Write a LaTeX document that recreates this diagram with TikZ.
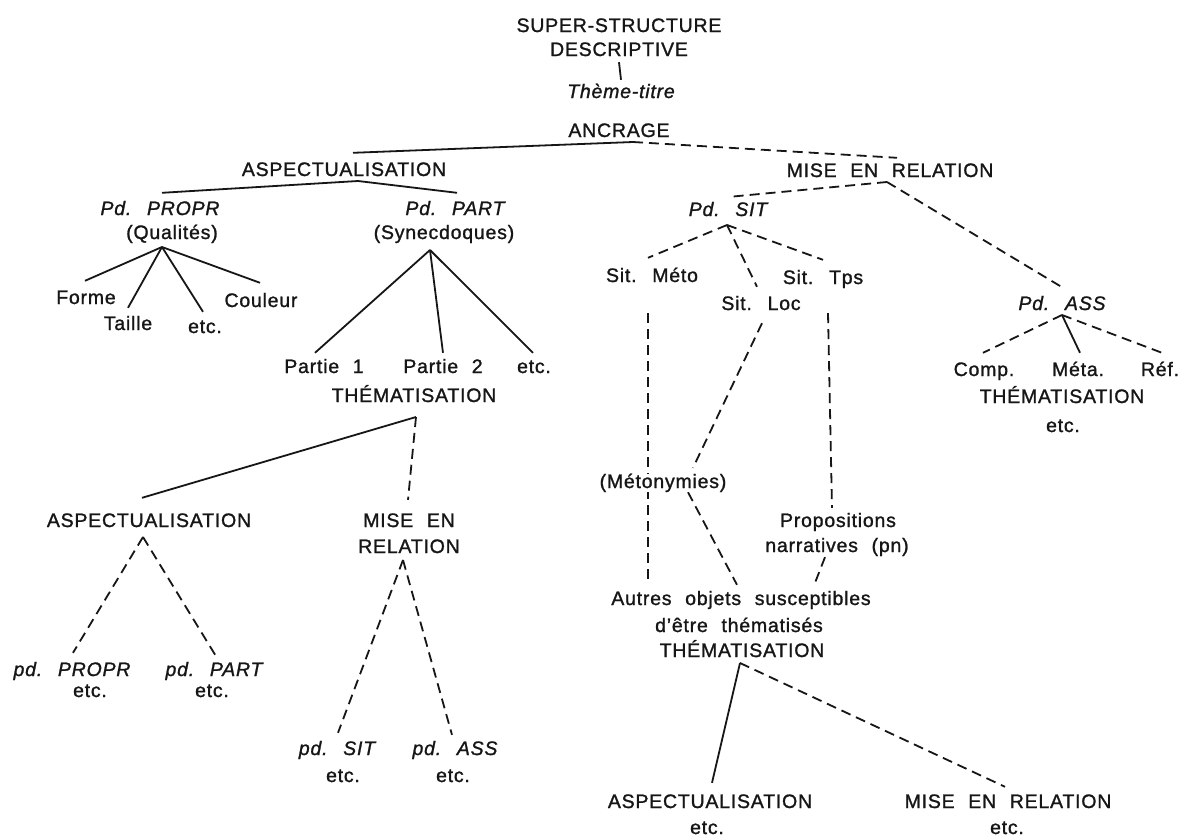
\documentclass[tikz,border=0pt]{standalone}
\usepackage{fontspec}
\setmainfont{Liberation Sans}[WordSpace=2.2,LetterSpace=4,FakeBold=1.2]
\usetikzlibrary{calc}
\pgfdeclarelayer{bg}
\pgfsetlayers{bg,main}
\definecolor{ink}{HTML}{161616}
\begin{document}
\begin{tikzpicture}[x=1pt,y=-1pt,
  lbl/.style={inner sep=0pt, anchor=base, text height=14pt, text depth=4pt, font=\fontsize{19.5}{23}\selectfont, text=ink},
  it/.style={lbl, font=\fontsize{19.5}{23}\selectfont\itshape},
  solidl/.style={draw=ink, line width=1.8pt},
  dashl/.style={draw=ink, line width=1.8pt, dash pattern=on 10pt off 6pt}]
\useasboundingbox (0,0) rectangle (1184,839);
% nodes
\node[lbl] (ss1) at (619,32) {SUPER-STRUCTURE};
\node[lbl] (ss2) at (619,56) {DESCRIPTIVE};
\node[it] (theme) at (621,98) {Thème-titre};
\node[lbl] (ancrage) at (619,137) {ANCRAGE};
\node[lbl] (asp1) at (344,176) {ASPECTUALISATION};
\node[lbl] (misr) at (890,177) {MISE EN RELATION};
\node[it] (pdpropr) at (160,215) {Pd. PROPR};
\node[lbl] (qual) at (172,239) {(Qualités)};
\node[it] (pdpart) at (455,215) {Pd. PART};
\node[lbl] (syn) at (444,239) {(Synecdoques)};
\node[lbl] (forme) at (86,304) {Forme};
\node[lbl] (taille) at (128,330) {Taille};
\node[lbl] (etca) at (205,333) {etc.};
\node[lbl] (couleur) at (261,307) {Couleur};
\node[lbl] (p1) at (324,373) {Partie 1};
\node[lbl] (p2) at (443,373) {Partie 2};
\node[lbl] (etcb) at (534,373) {etc.};
\node[lbl] (them1) at (414,402) {THÉMATISATION};
\node[lbl] (asp2) at (149,527) {ASPECTUALISATION};
\node[lbl] (mise2) at (409,527) {MISE EN};
\node[lbl] (rel2) at (409,553) {RELATION};
\node[it] (pdpropr2) at (72,676) {pd. PROPR};
\node[lbl] (etcc) at (90,697) {etc.};
\node[it] (pdpart2) at (214,676) {pd. PART};
\node[lbl] (etcd) at (212,697) {etc.};
\node[it] (pdsit2) at (337,755) {pd. SIT};
\node[lbl] (etce) at (343,782) {etc.};
\node[it] (pdass2) at (455,755) {pd. ASS};
\node[lbl] (etcf) at (453,782) {etc.};
\node[it] (pdsit) at (728,216) {Pd. SIT};
\node[lbl] (sitmeto) at (652,282) {Sit. Méto};
\node[lbl] (sitloc) at (761,310) {Sit. Loc};
\node[lbl] (sittps) at (823,284) {Sit. Tps};
\node[lbl, fill=white] (meton) at (663,488) {(Métonymies)};
\node[lbl] (props) at (838,527) {Propositions};
\node[lbl] (narr) at (837,552) {narratives (pn)};
\node[lbl] (autres) at (741,605) {Autres objets susceptibles};
\node[lbl] (detre) at (739,632) {d’être thématisés};
\node[lbl] (them3) at (742,657) {THÉMATISATION};
\node[lbl] (asp3) at (710,808) {ASPECTUALISATION};
\node[lbl] (etcg) at (707,834) {etc.};
\node[lbl] (mise3) at (1008,808) {MISE EN RELATION};
\node[lbl] (etch) at (1007,834) {etc.};
\node[it] (pdass) at (1062,310) {Pd. ASS};
\node[lbl] (comp) at (984,376) {Comp.};
\node[lbl] (meta) at (1078,376) {Méta.};
\node[lbl] (ref) at (1160,376) {Réf.};
\node[lbl] (them4) at (1062,403) {THÉMATISATION};
\node[lbl] (etci) at (1063,432) {etc.};
% junction points
\coordinate (anc) at (633,142);
\coordinate (a1) at (358,181);
\coordinate (q) at (162,247);
\coordinate (s) at (430,250);
\coordinate (t1) at (416,417);
\coordinate (a2) at (143,537);
\coordinate (r2) at (403,560);
\coordinate (m) at (887,182);
\coordinate (ps) at (727,225);
\coordinate (pa) at (1062,315);
\coordinate (t3) at (740,663);
\begin{pgfonlayer}{bg}
\fill[white] (0,0) rectangle (1184,839);
\draw[solidl] ($(ss2.south)+(0,2)$) -- ($(theme.north)+(0,-4)$);
\draw[solidl] (anc) -- ($(asp1.north)+(9,-9)$);
\draw[dashl] (anc) -- ($(misr.north)+(7,-5)$);
\draw[solidl] ($(pdpropr.north)+(2,-8)$) -- (a1) -- ($(pdpart.north)+(2,-8)$);
\draw[solidl] (q) -- ($(forme.north)+(-1,-9)$);
\draw[solidl] (q) -- ($(taille.north)+(0,-8)$);
\draw[solidl] (q) -- ($(etca.north)+(-2,-7)$);
\draw[solidl] (q) -- ($(couleur.north)+(-1,-10)$);
\draw[solidl] (s) -- ($(p1.north)+(-9,-6)$);
\draw[solidl] (s) -- ($(p2.north)+(0,-6)$);
\draw[solidl] (s) -- ($(etcb.north)+(-1,-6)$);
\draw[solidl] (t1) -- ($(asp2.north)+(-7,-15)$);
\draw[dashl] (t1) -- ($(mise2.north)+(-1,-13)$);
\draw[dashl] (a2) -- ($(pdpropr2.north)+(1,-9)$);
\draw[dashl] (a2) -- ($(pdpart2.north)+(3,-4)$);
\draw[dashl] (r2) -- ($(pdsit2.north)+(1,-8)$);
\draw[dashl] (r2) -- ($(pdass2.north)+(-3,-6)$);
\draw[dashl] (m) -- ($(pdsit.north)+(2,-5)$);
\draw[dashl] (m) -- ($(pdass.north)+(1,-8)$);
\draw[dashl] (ps) -- ($(sitmeto.north)+(-4,-10)$);
\draw[dashl] (ps) -- ($(sitloc.north)+(-4,-9)$);
\draw[dashl] (ps) -- ($(sittps.north)+(0,-10)$);
\draw[dashl] ($(sitmeto.south)+(-4,27)$) -- ($(autres.north)+(-93,-8)$);
\draw[dashl] ($(sitloc.south)+(1,9)$) -- ($(meton.north)+(30,-6)$);
\draw[dashl] ($(meton.south)+(25,0)$) -- ($(autres.north)+(-4,-6)$);
\draw[dashl] ($(sittps.south)+(5,25)$) -- ($(props.north)+(-6,-5)$);
\draw[dashl] ($(narr.south)+(-12,1)$) -- ($(autres.north)+(74,-8)$);
\draw[solidl] (t3) -- ($(asp3.north)+(2,-11)$);
\draw[dashl] (t3) -- ($(mise3.north)+(-3,-7)$);
\draw[dashl] (pa) -- ($(comp.north)+(-1,-9)$);
\draw[solidl] (pa) -- ($(meta.north)+(2,-9)$);
\draw[dashl] (pa) -- ($(ref.north)+(2,-9)$);
\end{pgfonlayer}
\end{tikzpicture}
\end{document}
